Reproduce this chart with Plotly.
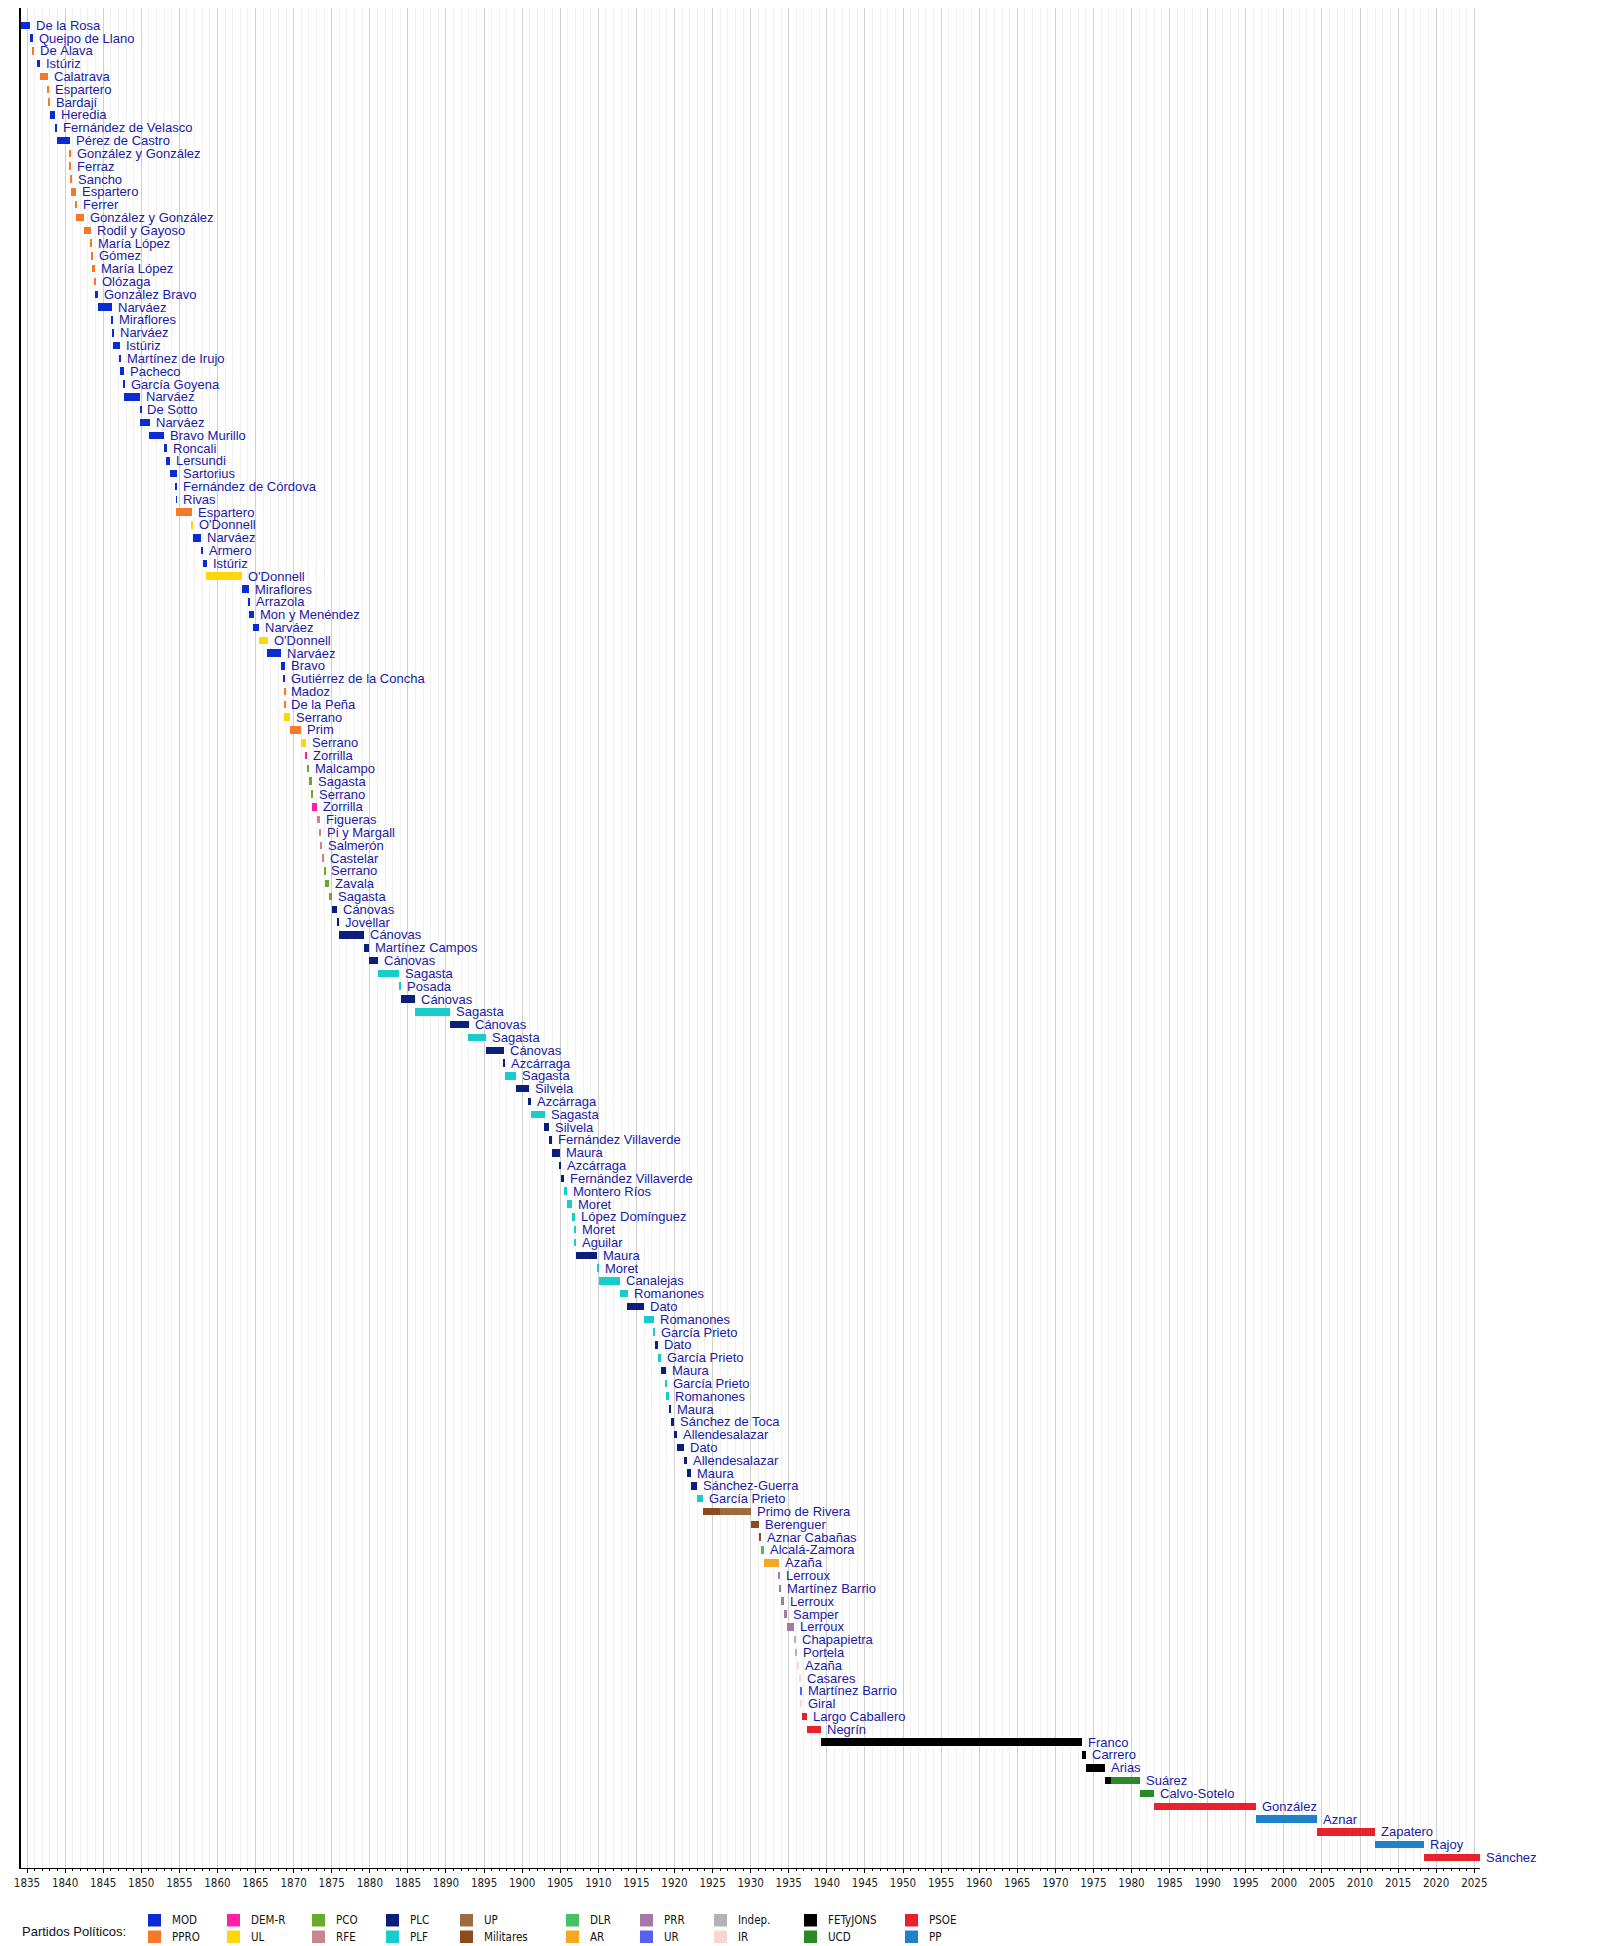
import plotly.graph_objects as go

# ---------------- data ----------------
names = [
    "De la Rosa", "Queipo de Llano", "De Álava", "Istúriz", "Calatrava", "Espartero", "Bardají", "Heredia",
    "Fernández de Velasco", "Pérez de Castro", "González y González", "Ferraz", "Sancho", "Espartero", "Ferrer",
    "González y González", "Rodil y Gayoso", "María López", "Gómez", "María López", "Olózaga", "González Bravo",
    "Narváez", "Miraflores", "Narváez", "Istúriz", "Martínez de Irujo", "Pacheco", "García Goyena", "Narváez",
    "De Sotto", "Narváez", "Bravo Murillo", "Roncali", "Lersundi", "Sartorius", "Fernández de Córdova", "Rivas",
    "Espartero", "O'Donnell", "Narváez", "Armero", "Istúriz", "O'Donnell", "Miraflores", "Arrazola",
    "Mon y Menéndez", "Narváez", "O'Donnell", "Narváez", "Bravo", "Gutiérrez de la Concha", "Madoz", "De la Peña",
    "Serrano", "Prim", "Serrano", "Zorrilla", "Malcampo", "Sagasta", "Serrano", "Zorrilla", "Figueras",
    "Pi y Margall", "Salmerón", "Castelar", "Serrano", "Zavala", "Sagasta", "Cánovas", "Jovellar", "Cánovas",
    "Martínez Campos", "Cánovas", "Sagasta", "Posada", "Cánovas", "Sagasta", "Cánovas", "Sagasta", "Cánovas",
    "Azcárraga", "Sagasta", "Silvela", "Azcárraga", "Sagasta", "Silvela", "Fernández Villaverde", "Maura",
    "Azcárraga", "Fernández Villaverde", "Montero Ríos", "Moret", "López Domínguez", "Moret", "Aguilar", "Maura",
    "Moret", "Canalejas", "Romanones", "Dato", "Romanones", "García Prieto", "Dato", "García Prieto", "Maura",
    "García Prieto", "Romanones", "Maura", "Sánchez de Toca", "Allendesalazar", "Dato", "Allendesalazar", "Maura",
    "Sánchez-Guerra", "García Prieto", "Primo de Rivera", "Berenguer", "Aznar Cabañas", "Alcalá-Zamora", "Azaña",
    "Lerroux", "Martínez Barrio", "Lerroux", "Samper", "Lerroux", "Chapapietra", "Portela", "Azaña", "Casares",
    "Martínez Barrio", "Giral", "Largo Caballero", "Negrín", "Franco", "Carrero", "Arias", "Suárez",
    "Calvo-Sotelo", "González", "Aznar", "Zapatero", "Rajoy", "Sánchez",
]

starts = [
    1834.04, 1835.43, 1835.70, 1836.38, 1836.65, 1837.63, 1837.80, 1837.96,
    1838.68, 1838.94, 1840.55, 1840.62, 1840.66, 1840.72, 1841.40,
    1841.42, 1842.50, 1843.36, 1843.40, 1843.56, 1843.90, 1843.95,
    1844.34, 1846.15, 1846.21, 1846.30, 1847.10, 1847.25, 1847.68, 1847.76,
    1849.85, 1849.87, 1851.04, 1852.98, 1853.28, 1853.76, 1854.55, 1854.56,
    1854.57, 1856.55, 1856.80, 1857.86, 1858.06, 1858.50, 1863.20, 1864.05,
    1864.17, 1864.72, 1865.48, 1866.55, 1868.33, 1868.72, 1868.74, 1868.75,
    1868.77, 1869.47, 1871.01, 1871.56, 1871.76, 1871.97, 1872.40, 1872.45, 1873.12,
    1873.44, 1873.55, 1873.68, 1874.01, 1874.16, 1874.67, 1875.00, 1875.70, 1875.92,
    1879.18, 1879.94, 1881.10, 1883.78, 1884.05, 1885.90, 1890.51, 1892.95, 1895.22,
    1897.60, 1897.76, 1899.17, 1900.81, 1901.18, 1902.93, 1903.55, 1903.93,
    1904.96, 1905.07, 1905.48, 1905.92, 1906.52, 1906.90, 1906.93, 1907.07,
    1909.80, 1910.11, 1912.87, 1913.82, 1915.94, 1917.30, 1917.44, 1917.84, 1918.22,
    1918.85, 1918.93, 1919.29, 1919.55, 1919.95, 1920.35, 1921.20, 1921.62,
    1922.19, 1922.93, 1923.72, 1930.08, 1931.13, 1931.30, 1931.79,
    1933.70, 1933.77, 1933.96, 1934.33, 1934.76, 1935.73, 1935.95, 1936.13, 1936.36,
    1936.54, 1936.56, 1936.68, 1937.38, 1939.25, 1973.44, 1974.00, 1976.50,
    1981.15, 1982.92, 1996.34, 2004.30, 2011.97, 2018.42,
]

ends = [
    1835.43, 1835.72, 1835.88, 1836.64, 1837.75, 1837.82, 1838.02, 1838.70,
    1838.96, 1840.58, 1840.72, 1840.78, 1840.86, 1841.45, 1841.55,
    1842.52, 1843.42, 1843.52, 1843.62, 1843.95, 1844.05, 1844.38,
    1846.22, 1846.30, 1846.38, 1847.15, 1847.28, 1847.75, 1847.82, 1849.88,
    1850.00, 1851.12, 1853.02, 1853.35, 1853.82, 1854.64, 1854.68, 1854.69,
    1856.62, 1856.85, 1857.90, 1858.15, 1858.58, 1863.28, 1864.10, 1864.22,
    1864.75, 1865.50, 1866.60, 1868.38, 1868.82, 1868.86, 1868.88, 1868.88,
    1869.55, 1871.02, 1871.65, 1871.78, 1872.00, 1872.44, 1872.55, 1873.12, 1873.44,
    1873.58, 1873.72, 1874.01, 1874.16, 1874.67, 1875.00, 1875.74, 1875.95, 1879.25,
    1879.95, 1881.12, 1883.85, 1884.05, 1885.92, 1890.55, 1893.00, 1895.30, 1897.65,
    1897.80, 1899.25, 1900.85, 1901.20, 1903.00, 1903.55, 1903.93, 1905.00,
    1905.15, 1905.48, 1905.92, 1906.52, 1906.92, 1907.04, 1907.10, 1909.85,
    1910.12, 1912.90, 1913.88, 1916.00, 1917.35, 1917.45, 1917.90, 1918.25, 1918.92,
    1919.00, 1919.32, 1919.58, 1919.97, 1920.38, 1921.25, 1921.65, 1922.22,
    1922.95, 1923.72, 1925.92, 1931.13, 1931.40, 1931.79, 1933.70,
    1933.85, 1933.96, 1934.33, 1934.76, 1935.73, 1935.95, 1936.14, 1936.36, 1936.56,
    1936.68, 1936.72, 1937.38, 1939.25, 1973.44, 1973.97, 1976.50, 1977.30,
    1982.92, 1996.34, 2004.30, 2011.97, 2018.42, 2025.75,
]

parties = [
    "MOD", "MOD", "PPRO", "MOD", "PPRO", "PPRO", "PPRO", "MOD",
    "MOD", "MOD", "PPRO", "PPRO", "PPRO", "PPRO", "PPRO",
    "PPRO", "PPRO", "PPRO", "PPRO", "PPRO", "PPRO", "MOD",
    "MOD", "MOD", "MOD", "MOD", "MOD", "MOD", "MOD", "MOD",
    "MOD", "MOD", "MOD", "MOD", "MOD", "MOD", "MOD", "MOD",
    "PPRO", "UL", "MOD", "MOD", "MOD", "UL", "MOD", "MOD",
    "MOD", "MOD", "UL", "MOD", "MOD", "MOD", "PPRO", "PPRO",
    "UL", "PPRO", "UL", "DEM-R", "PCO", "PCO", "PCO", "DEM-R", "RFE",
    "RFE", "RFE", "RFE", "PCO", "PCO", "PCO", "PLC", "PLC", "PLC",
    "PLC", "PLC", "PLF", "PLF", "PLC", "PLF", "PLC", "PLF", "PLC",
    "PLC", "PLF", "PLC", "PLC", "PLF", "PLC", "PLC", "PLC",
    "PLC", "PLC", "PLF", "PLF", "PLF", "PLF", "PLF", "PLC",
    "PLF", "PLF", "PLF", "PLC", "PLF", "PLF", "PLC", "PLF", "PLC",
    "PLF", "PLF", "PLC", "PLC", "PLC", "PLC", "PLC", "PLC",
    "PLC", "PLF", "Militares", "Militares", "Militares", "DLR", "AR",
    "PRR", "PRR", "PRR", "PRR", "PRR", "Indep.", "Indep.", "IR", "IR",
    "UR", "IR", "PSOE", "PSOE", "FETyJONS", "FETyJONS", "FETyJONS", "FETyJONS",
    "UCD", "PSOE", "PP", "PSOE", "PP", "PSOE",
]

# second segments of rows that change party (row index, start, end, party)
extra_rows = [116, 137]
extra_starts = [1925.92, 1977.30]
extra_ends = [1930.08, 1981.15]
extra_parties = ["UP", "UCD"]

party_colors = {
    "MOD": "#0b2bd3", "PPRO": "#f47a2a", "DEM-R": "#ff1fa5", "UL": "#ffd60a",
    "PCO": "#6aa92a", "RFE": "#c68590", "PLC": "#0c1e7c", "PLF": "#18cccc",
    "UP": "#9c6b3f", "Militares": "#8b4b1c", "DLR": "#45c064", "AR": "#f2a822",
    "PRR": "#a678a6", "UR": "#5a60ee", "Indep.": "#b3b3b3", "IR": "#f9d6d6",
    "FETyJONS": "#000000", "UCD": "#2a8a2a", "PSOE": "#e8212d", "PP": "#1f80cb",
}

legend_columns = [("MOD", "PPRO"), ("DEM-R", "UL"), ("PCO", "RFE"), ("PLC", "PLF"),
                  ("UP", "Militares"), ("DLR", "AR"), ("PRR", "UR"), ("Indep.", "IR"),
                  ("FETyJONS", "UCD"), ("PSOE", "PP")]
legend_title = "Partidos Políticos:"

# ---------------- layout constants ----------------
# the page body adds an 8px margin; the figure is sized to fit inside the window
OFF = 8
W, H = 1592, 1938
ML, MR, MT, MB = 13, 120, 0, 78
PLOT_W = W - ML - MR
PLOT_H = H - MT - MB
X_RANGE = [1834.21, 2025.75]
Y_RANGE = [143.82, -1.35]
BAR_W = 0.585
NAME_FONT = "Liberation Sans, Arial, sans-serif"
NARROW_FONT = "Liberation Sans Narrow, Arial Narrow, DejaVu Sans Condensed, Liberation Sans, sans-serif"
NAME_COLOR = "#1a1aa3"

fig = go.Figure()

seg_rows = list(range(len(names))) + extra_rows
seg_starts = starts + extra_starts
seg_ends = ends + extra_ends
seg_parties = parties + extra_parties

for party, color in party_colors.items():
    idx = [i for i, p in enumerate(seg_parties) if p == party]
    if not idx:
        continue
    fig.add_trace(go.Bar(
        orientation="h",
        y=[seg_rows[i] for i in idx],
        base=[seg_starts[i] for i in idx],
        x=[seg_ends[i] - seg_starts[i] for i in idx],
        width=BAR_W,
        marker=dict(color=color, line=dict(width=0)),
        showlegend=False,
        hoverinfo="skip",
    ))

label_x = [ends[i] for i in range(len(names))]
for r, e in zip(extra_rows, extra_ends):
    label_x[r] = max(label_x[r], e)

for i, n in enumerate(names):
    fig.add_annotation(
        x=label_x[i], y=i, xref="x", yref="y", text=n, showarrow=False,
        xanchor="left", yanchor="middle", xshift=4,
        font=dict(family=NAME_FONT, size=13, color=NAME_COLOR),
    )

# ---------------- legend (manual, screen pixel positions) ----------------
def px(xs):
    return (xs - OFF - ML) / PLOT_W

def py(ys):
    return (H - MB - (ys - OFF)) / PLOT_H

col_x = [148, 227, 312, 386, 460, 566, 640, 714, 804, 905]
row_top = [1914, 1930.5]
SW, SH = 13, 12.5
for cx, pair in zip(col_x, legend_columns):
    for rt, party in zip(row_top, pair):
        fig.add_shape(type="rect", xref="paper", yref="paper",
                      x0=px(cx), x1=px(cx + SW), y0=py(rt + SH), y1=py(rt),
                      fillcolor=party_colors[party], line=dict(width=0))
        fig.add_annotation(xref="paper", yref="paper", x=px(cx + 22), y=py(rt + SH / 2),
                           text=party, showarrow=False, xanchor="left", yanchor="middle",
                           font=dict(family=NARROW_FONT, size=11.5, color="#111111"))

fig.add_annotation(xref="paper", yref="paper", x=px(20), y=py(1931), text=legend_title,
                   showarrow=False, xanchor="left", yanchor="middle",
                   font=dict(family=NAME_FONT, size=13, color="#111111"))

fig.update_layout(
    width=W, height=H,
    margin=dict(l=ML, r=MR, t=MT, b=MB, pad=0),
    paper_bgcolor="white", plot_bgcolor="white",
    barmode="overlay", bargap=0,
    showlegend=False,
    xaxis=dict(
        range=X_RANGE, tick0=1835, dtick=5, tickformat="d",
        ticks="outside", ticklen=4, tickwidth=1, tickcolor="black",
        showgrid=True, gridcolor="#cfcfcf", gridwidth=1,
        showline=True, linecolor="black", linewidth=1,
        zeroline=False,
        tickfont=dict(family=NARROW_FONT, size=11.5, color="#222222"),
        minor=dict(dtick=1, tick0=1835, ticks="outside", ticklen=2, tickcolor="black",
                   showgrid=True, gridcolor="#f1f1f1", gridwidth=1),
        fixedrange=True,
    ),
    yaxis=dict(
        range=Y_RANGE, showgrid=False, showticklabels=False, zeroline=False,
        showline=True, linecolor="black", linewidth=1.5, ticks="",
        fixedrange=True,
    ),
)

fig.write_html("out.html")
